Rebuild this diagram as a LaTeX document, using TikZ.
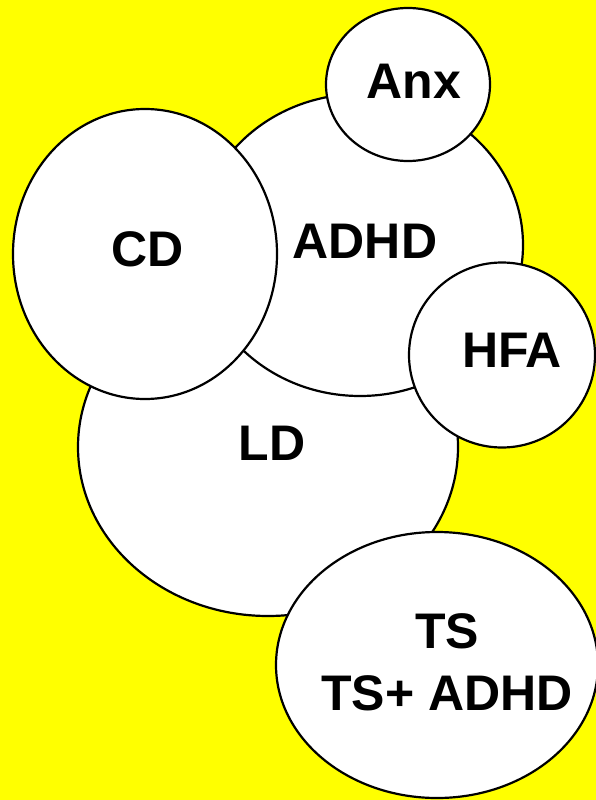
\documentclass[tikz,border=0pt]{standalone}
\usepackage{fontspec}
\setmainfont{Liberation Sans}
\usetikzlibrary{shapes.geometric, positioning}
\definecolor{bgyellow}{RGB}{255,255,0}

\begin{document}
\begin{tikzpicture} [x=1pt, y=-1pt,
	bubble/.style={ellipse, draw=black, fill=white, line width=2.2pt, inner sep=0pt},
	tag/.style={font=\fontsize{50}{62}\selectfont\bfseries, align=center, inner sep=0pt}]
			% background
			\fill [bgyellow] (0,0) rectangle (596,800);
			\useasboundingbox (0,0) rectangle (596,800);
			
			% bubbles, back to front
			\node [bubble, minimum width=380pt, minimum height=338pt] (ld)   at (268,447) {};
			\node [bubble, minimum width=326pt, minimum height=302pt] (adhd) at (360,245) {};
			\node [bubble, minimum width=264pt, minimum height=290pt] (cd)   at (145,254) {};
			\node [bubble, minimum width=186pt, minimum height=185pt] (hfa)  at (502,355) {};
			\node [bubble, minimum width=164pt, minimum height=153pt] (anx)  at (408,84.5) {};
			\node [bubble, minimum width=322pt, minimum height=266pt] (ts)   at (437,665) {};
			
			% labels
			\node [tag] (ldtxt)   at (272,443) {LD};
			\node [tag] (adhdtxt) at (365,241) {ADHD};
			\node [tag] (cdtxt)   at (148,249) {CD};
			\node [tag] (hfatxt)  at (512,350) {HFA};
			\node [tag] (anxtxt)  at (414,81)  {Anx};
			\node [tag] (tstxt)   at (447,662) {TS\\TS+ ADHD};
		\end{tikzpicture}
\end{document}
